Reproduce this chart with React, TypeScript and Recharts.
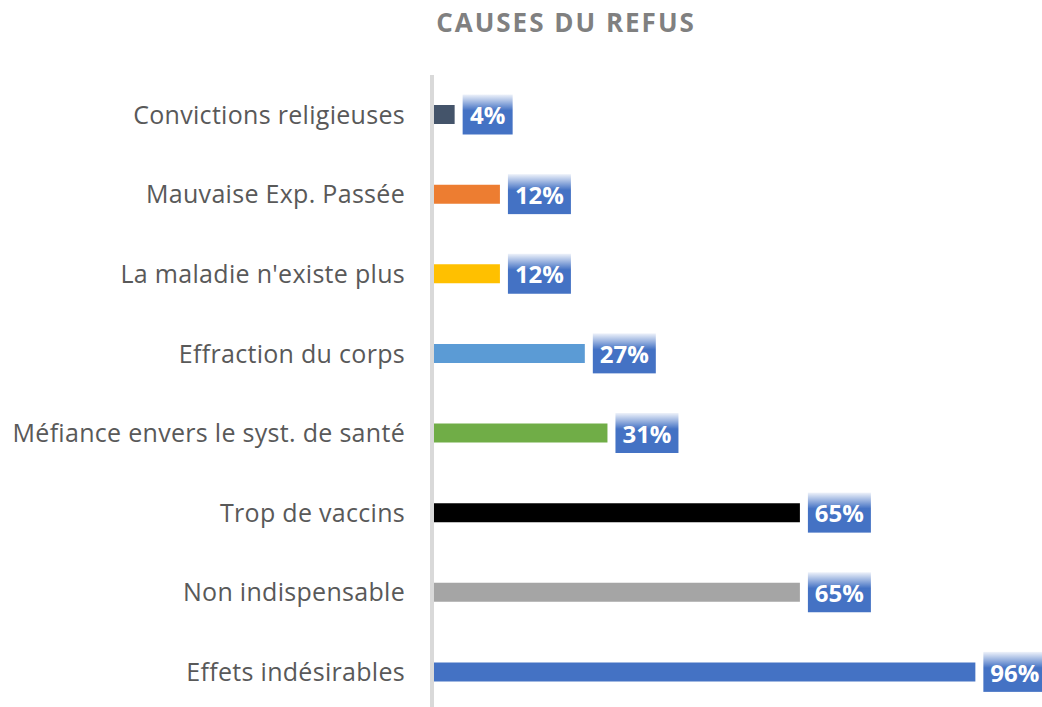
import { BarChart, Bar, XAxis, YAxis, Cell, LabelList, ReferenceLine } from 'recharts'

const CATEGORIES = [
  'Convictions religieuses',
  'Mauvaise Exp. Passée',
  "La maladie n'existe plus",
  'Effraction du corps',
  'Méfiance envers le syst. de santé',
  'Trop de vaccins',
  'Non indispensable',
  'Effets indésirables',
]
const VALUES = [4, 12, 12, 27, 31, 65, 65, 96]
const COLORS = ['#44546A', '#ED7D31', '#FFC000', '#5B9BD5', '#70AD47', '#000000', '#A5A5A5', '#4472C4']

const data = CATEGORIES.map((name, i) => ({ name, value: VALUES[i] }))

const FONT = '"Open Sans", Lato, sans-serif'

function ValueBox(props: any) {
  const { x, y, width, height, value } = props
  const txt = `${value}%`
  const digits = String(value).length
  const w = 37 + digits * 13
  const bx = x + width + 8
  const cy = y + height / 2
  return (
    <g>
      <rect x={bx} y={cy - 20} width={w} height={40} fill="url(#boxGrad)" />
      <text
        x={bx + w / 2}
        y={cy + 1}
        dy="0.36em"
        textAnchor="middle"
        fill="#fff"
        fontFamily={FONT}
        fontWeight={700}
        fontSize={24}
      >
        {txt}
      </text>
    </g>
  )
}

export default function App() {
  return (
    <div style={{ position: 'absolute', left: 0, top: 0, width: 1042, height: 707, overflow: 'hidden', background: '#fff' }}>
      <div
        style={{
          position: 'absolute',
          left: 0,
          width: 1132,
          top: 4,
          textAlign: 'center',
          fontFamily: FONT,
          fontWeight: 700,
          fontSize: 26,
          letterSpacing: 2,
          color: '#808080',
        }}
      >
        CAUSES DU REFUS
      </div>
      <BarChart
        width={1042}
        height={712}
        data={data}
        layout="vertical"
        margin={{ top: 75, right: 44, bottom: 0, left: 0 }}
      >
        <defs>
          <linearGradient id="boxGrad" x1="0" y1="0" x2="0" y2="1">
            <stop offset="0%" stopColor="#EEF2FA" />
            <stop offset="40%" stopColor="#4472C4" />
            <stop offset="100%" stopColor="#4472C4" />
          </linearGradient>
        </defs>
        <XAxis type="number" domain={[0, 100]} hide />
        <YAxis
          type="category"
          dataKey="name"
          width={432}
          axisLine={false}
          tickLine={false}
          tickSize={0}
          tickMargin={27}
          tick={{ fontSize: 25, fill: '#595959', fontFamily: FONT, letterSpacing: 0.3 }}
          interval={0}
        />
        <Bar dataKey="value" barSize={19} isAnimationActive={false}>
          {data.map((d, i) => (
            <Cell key={d.name} fill={COLORS[i]} />
          ))}
          <LabelList dataKey="value" content={<ValueBox />} />
        </Bar>
        <ReferenceLine x={0} stroke="#D9D9D9" strokeWidth={4} />
      </BarChart>
    </div>
  )
}
